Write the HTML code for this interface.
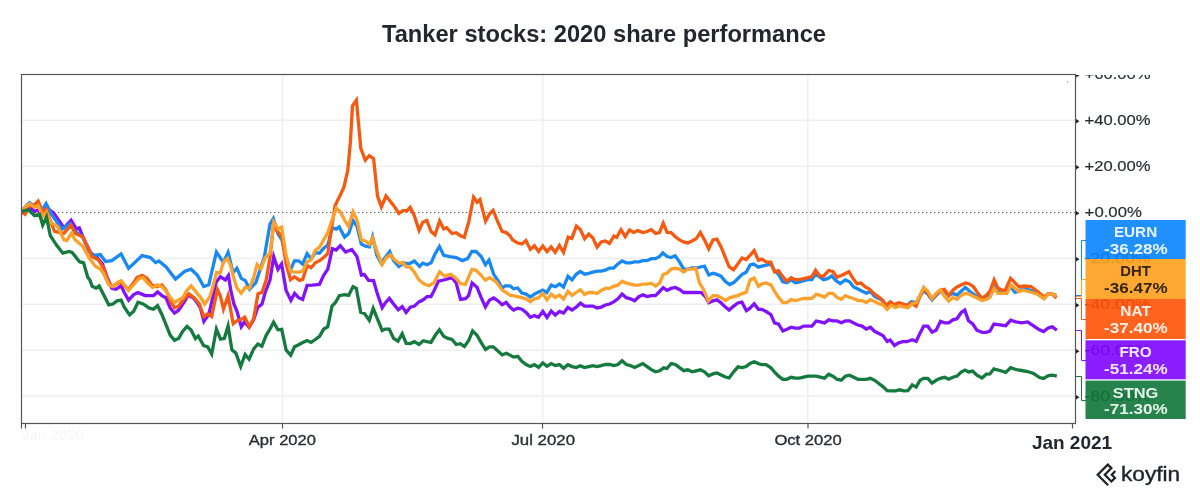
<!DOCTYPE html>
<html lang="en"><head><meta charset="utf-8"><title>Tanker stocks: 2020 share performance</title>
<style>html,body{margin:0;padding:0;background:#fff;}body{width:1200px;height:503px;overflow:hidden;}svg{display:block;}text{font-family:"Liberation Sans", Arial, Helvetica, sans-serif;}</style></head><body>
<svg width="1200" height="503" viewBox="0 0 1200 503">
<rect width="1200" height="503" fill="#fff"/>
<text x="382.0" y="41.7" font-size="24.2" font-weight="700" fill="#23262f" textLength="444" lengthAdjust="spacingAndGlyphs">Tanker stocks: 2020 share performance</text>
<defs><clipPath id="cp"><rect x="22" y="75" width="1053" height="348.5"/></clipPath><clipPath id="ylab"><rect x="1076" y="75" width="124" height="360"/></clipPath></defs>
<g stroke="#efefef" stroke-width="1.6">
<line x1="22" x2="1075" y1="120.3" y2="120.3"/>
<line x1="22" x2="1075" y1="166.3" y2="166.3"/>
<line x1="22" x2="1075" y1="258.3" y2="258.3"/>
<line x1="22" x2="1075" y1="304.3" y2="304.3"/>
<line x1="22" x2="1075" y1="350.3" y2="350.3"/>
<line x1="22" x2="1075" y1="396.3" y2="396.3"/>
<line x1="282.4" x2="282.4" y1="75" y2="423"/>
<line x1="542.7" x2="542.7" y1="75" y2="423"/>
<line x1="807.8" x2="807.8" y1="75" y2="423"/>
</g>
<line x1="22" x2="1075" y1="212.5" y2="212.5" stroke="#555" stroke-width="1.1" stroke-dasharray="1.3 2.7"/>
<g clip-path="url(#cp)" fill="none" stroke-width="3.3" stroke-linejoin="miter" stroke-miterlimit="10" stroke-linecap="butt">
<path d="M20.8 211.7 L31.4 208.7 L34.6 211.5 L37.7 210.2 L42.5 214.2 L46.8 208.0 L53.4 212.7 L63.9 227.8 L71.1 220.3 L76.5 229.0 L79.3 227.9 L82.0 234.6 L86.8 245.1 L92.0 255.5 L97.2 257.6 L102.4 263.9 L107.6 278.5 L111.9 288.3 L116.0 289.3 L121.1 285.8 L124.3 292.5 L128.6 300.1 L133.7 294.6 L137.9 292.6 L145.2 295.6 L153.5 295.6 L157.7 291.9 L161.9 295.6 L166.0 297.8 L170.3 308.2 L174.5 313.0 L178.6 310.2 L184.9 300.9 L188.1 295.0 L193.2 297.7 L197.4 303.0 L200.5 308.2 L203.9 321.3 L208.8 314.4 L212.0 300.9 L216.2 282.1 L220.4 276.8 L225.4 280.0 L228.4 275.4 L230.8 290.4 L233.9 304.0 L237.0 311.3 L241.3 326.8 L244.5 321.8 L249.1 327.1 L253.7 319.6 L257.9 307.2 L262.0 304.0 L265.2 292.5 L270.0 280.0 L273.7 256.7 L277.9 269.3 L281.6 264.0 L286.1 290.4 L290.9 300.4 L294.6 293.4 L298.6 297.7 L302.6 299.4 L307.1 285.4 L312.2 285.2 L319.4 284.5 L323.7 275.3 L327.8 269.1 L332.3 248.7 L336.1 250.0 L340.3 245.7 L345.6 252.1 L351.8 249.5 L357.0 256.6 L361.4 275.0 L364.3 274.5 L368.6 280.5 L373.6 280.7 L377.3 293.6 L382.2 307.7 L385.2 303.0 L389.4 298.4 L393.6 304.0 L398.2 309.8 L402.2 306.7 L406.1 312.5 L410.3 307.2 L414.4 306.1 L419.0 301.9 L423.2 299.8 L427.0 296.7 L431.0 296.6 L434.2 290.4 L438.5 281.1 L445.7 279.5 L451.9 277.6 L456.1 282.7 L460.5 299.5 L465.5 298.7 L468.6 295.6 L472.1 283.0 L477.0 287.3 L481.2 297.7 L485.4 306.9 L489.6 299.9 L493.7 297.9 L497.9 300.9 L502.1 304.7 L506.2 302.3 L510.0 307.1 L513.6 310.1 L517.7 308.2 L521.9 309.2 L526.1 312.4 L530.3 317.3 L534.4 315.6 L538.5 317.2 L542.8 311.3 L547.0 317.5 L551.2 311.0 L555.3 315.0 L559.5 311.5 L563.6 313.1 L567.9 307.5 L572.0 310.0 L576.2 307.1 L580.4 303.2 L584.5 306.0 L588.7 306.1 L592.9 306.1 L597.0 308.1 L601.2 307.1 L605.4 305.0 L609.6 304.0 L613.7 301.9 L617.9 298.8 L622.1 294.0 L626.3 297.7 L630.4 298.8 L634.6 300.7 L638.8 296.7 L642.9 294.7 L647.1 296.6 L651.3 295.7 L655.4 295.6 L659.6 291.5 L663.2 287.7 L667.0 290.3 L671.1 288.4 L675.3 287.4 L679.5 289.4 L683.7 292.5 L687.8 292.5 L692.0 292.5 L696.2 292.5 L701.3 292.6 L705.5 296.7 L708.8 302.6 L712.9 300.9 L717.0 299.9 L721.2 303.0 L725.4 307.1 L729.1 310.0 L733.7 306.1 L737.9 303.0 L741.9 302.2 L746.4 310.7 L750.0 308.2 L754.2 303.7 L758.4 309.3 L761.9 309.4 L766.1 311.5 L770.9 314.6 L774.5 322.9 L778.6 324.1 L782.9 331.0 L787.0 329.2 L791.1 327.2 L795.3 328.2 L799.5 328.1 L803.7 326.1 L807.8 326.1 L812.0 326.0 L816.2 321.0 L820.3 321.9 L824.5 322.9 L828.7 319.9 L832.9 320.9 L837.0 320.9 L841.2 322.8 L845.4 320.9 L849.6 320.9 L853.7 323.0 L857.9 325.0 L862.1 326.1 L866.3 329.1 L870.4 327.3 L874.6 331.3 L878.8 333.4 L882.9 335.5 L887.2 341.4 L890.2 340.0 L894.5 345.5 L898.6 342.8 L902.8 341.7 L906.9 341.7 L912.2 339.7 L916.2 341.3 L919.9 333.4 L923.7 326.2 L927.8 326.2 L932.1 332.1 L936.1 330.2 L940.5 321.3 L944.5 322.9 L948.7 322.9 L952.9 319.8 L957.0 318.7 L961.2 312.5 L964.8 310.1 L968.5 320.8 L972.7 324.0 L976.9 330.2 L982.1 332.3 L986.2 332.3 L989.9 331.2 L993.9 324.0 L999.8 324.8 L1005.7 325.7 L1010.7 320.1 L1015.7 321.8 L1021.6 322.8 L1027.6 321.9 L1033.5 325.8 L1039.5 329.8 L1043.5 331.6 L1048.5 327.8 L1052.4 326.9 L1056.8 330.2" stroke="#8112FB"/>
<path d="M20.8 211.7 L29.4 202.6 L34.6 206.3 L38.7 205.2 L42.4 209.7 L46.1 203.7 L51.3 213.8 L61.8 229.0 L70.0 223.6 L75.3 231.5 L82.6 236.8 L88.9 251.3 L94.1 255.4 L100.3 254.6 L105.6 261.6 L111.8 260.7 L121.1 254.0 L128.6 268.4 L142.1 255.6 L150.4 257.6 L155.7 262.6 L158.8 261.0 L166.1 267.0 L175.5 279.1 L184.9 271.2 L191.1 269.2 L197.4 275.3 L203.7 286.5 L208.8 284.7 L216.4 252.0 L223.4 262.5 L228.1 252.5 L233.1 272.6 L236.9 268.2 L241.3 278.4 L245.3 280.6 L249.7 289.2 L255.8 282.6 L264.2 257.6 L270.0 224.2 L273.4 218.6 L277.8 233.6 L281.9 239.9 L286.1 257.6 L290.3 270.2 L294.5 260.9 L298.6 260.8 L302.6 264.1 L307.1 253.7 L311.1 258.8 L315.4 252.6 L319.4 253.3 L323.7 248.2 L327.8 245.1 L332.2 227.8 L336.1 229.2 L339.2 227.0 L344.6 237.1 L348.7 233.6 L353.0 220.4 L357.0 226.3 L361.3 244.0 L365.4 246.1 L369.4 246.8 L372.6 236.8 L376.9 255.5 L381.1 263.0 L385.2 257.6 L389.7 251.5 L393.6 260.7 L398.8 266.6 L404.0 262.9 L409.2 263.8 L414.4 261.0 L419.6 266.4 L422.8 263.1 L426.9 264.8 L431.1 262.8 L435.3 253.4 L439.4 246.4 L443.7 255.4 L449.9 256.6 L456.2 257.6 L462.4 260.6 L467.6 258.6 L471.9 251.5 L476.0 251.4 L481.2 256.6 L485.4 264.8 L489.0 260.2 L493.7 274.3 L497.9 280.6 L502.2 288.3 L505.2 285.8 L510.0 285.8 L513.6 288.8 L517.7 288.0 L521.9 293.0 L526.1 294.1 L530.3 297.0 L534.4 294.1 L538.6 292.0 L542.8 290.1 L546.8 292.6 L551.2 285.1 L555.3 286.7 L559.5 284.0 L563.5 287.1 L568.0 276.3 L572.0 279.9 L576.2 274.3 L580.3 271.4 L584.5 274.2 L588.7 273.3 L592.9 272.2 L597.0 271.2 L601.2 271.2 L605.4 270.1 L609.6 268.1 L613.7 268.0 L617.9 263.9 L622.1 260.9 L626.3 262.8 L630.4 262.8 L634.6 261.8 L638.8 261.8 L642.9 260.7 L647.1 260.7 L651.3 258.7 L655.5 258.6 L659.6 256.5 L662.8 252.9 L667.0 256.5 L671.1 257.5 L675.2 255.8 L679.5 261.8 L683.7 269.0 L687.8 269.1 L692.0 268.0 L696.2 268.0 L700.3 267.0 L704.4 266.2 L708.8 275.0 L712.9 273.3 L717.0 274.3 L721.2 276.4 L725.4 281.6 L729.6 284.6 L733.7 282.6 L737.9 278.5 L742.1 274.3 L746.2 272.2 L750.1 265.0 L753.6 264.1 L758.4 267.1 L761.9 266.1 L766.1 265.1 L770.8 264.2 L774.4 270.3 L778.6 274.5 L782.8 281.7 L786.9 282.7 L791.1 279.9 L795.3 282.7 L799.5 281.8 L803.6 280.7 L807.8 279.7 L811.9 279.6 L815.6 273.9 L819.3 276.6 L823.5 279.6 L827.6 278.6 L831.8 275.9 L836.0 280.7 L840.2 283.6 L845.4 279.9 L849.5 281.8 L853.7 287.0 L857.9 289.1 L862.1 291.2 L866.3 293.1 L870.4 291.4 L874.6 296.4 L878.8 298.5 L882.9 300.6 L886.2 306.3 L890.3 303.8 L894.4 305.7 L898.6 303.7 L902.8 304.7 L906.9 305.6 L911.2 301.7 L916.2 302.5 L919.9 296.4 L923.7 290.7 L927.8 294.3 L932.0 299.9 L936.2 295.3 L940.4 291.3 L944.5 292.2 L948.7 295.2 L952.9 293.4 L957.0 295.1 L961.2 291.2 L965.4 287.4 L969.6 291.2 L973.7 294.3 L977.9 297.4 L982.1 299.4 L986.2 297.4 L990.0 295.3 L994.1 286.1 L998.0 290.9 L1005.0 291.9 L1010.5 287.0 L1015.1 292.3 L1019.0 291.0 L1024.0 288.6 L1033.0 291.0 L1037.0 293.5 L1044.0 298.2 L1048.0 294.1 L1052.0 294.0 L1056.5 295.4" stroke="#1888F2"/>
<path d="M20.8 211.7 L25.1 214.3 L29.5 205.6 L33.5 205.4 L38.2 201.1 L42.7 211.9 L46.5 209.4 L51.3 223.2 L54.5 231.4 L63.8 233.4 L71.0 225.1 L75.3 233.6 L82.6 236.8 L86.8 245.1 L92.0 256.5 L98.2 259.7 L103.5 268.0 L107.7 280.6 L111.9 286.5 L117.0 283.7 L121.1 281.9 L124.3 285.8 L128.5 289.5 L133.7 282.6 L136.9 277.5 L142.1 275.4 L147.3 278.5 L151.5 284.7 L156.7 286.7 L161.8 284.9 L166.1 290.0 L170.3 300.9 L174.5 307.8 L178.6 306.1 L184.9 297.7 L189.0 293.9 L194.2 297.7 L199.4 304.0 L203.8 316.7 L207.8 313.8 L211.7 316.5 L217.4 289.5 L220.3 295.7 L223.5 309.1 L228.1 295.8 L233.2 323.8 L237.0 320.7 L240.8 319.6 L244.8 317.1 L249.2 326.6 L253.7 318.6 L258.0 293.7 L262.0 292.4 L266.2 280.0 L270.0 257.6 L273.4 225.3 L277.7 231.5 L281.9 236.7 L286.1 263.9 L290.5 279.7 L294.4 276.7 L299.7 280.4 L302.7 279.4 L307.2 265.6 L311.1 267.7 L315.3 262.8 L319.5 260.7 L323.6 257.6 L327.8 253.4 L331.0 231.5 L335.1 205.4 L340.3 195.0 L343.9 187.1 L347.8 170.3 L350.4 141.9 L352.5 105.7 L356.4 100.1 L360.8 148.3 L365.3 160.2 L369.3 155.7 L373.6 158.7 L377.5 196.1 L381.4 206.9 L386.0 196.0 L393.6 205.4 L398.9 213.4 L403.0 210.7 L407.1 210.6 L410.2 207.4 L414.4 215.9 L419.1 230.5 L422.8 222.2 L426.8 220.5 L431.1 231.5 L435.0 234.8 L439.6 221.0 L443.8 228.9 L446.7 227.7 L452.0 233.5 L456.1 232.7 L460.3 235.7 L464.3 237.3 L468.7 222.1 L473.6 197.2 L477.1 202.3 L479.9 199.7 L485.6 221.1 L489.6 213.8 L493.1 210.4 L497.9 222.1 L502.1 231.4 L506.2 232.6 L510.0 235.7 L512.5 239.8 L517.7 243.0 L521.9 243.9 L525.9 240.6 L530.4 249.4 L534.4 245.8 L538.6 251.5 L542.8 246.0 L547.0 251.6 L551.1 246.9 L555.2 252.3 L559.4 245.5 L563.5 252.4 L568.1 237.2 L571.8 238.4 L576.4 226.1 L580.3 229.4 L584.6 238.8 L588.7 234.1 L592.8 237.8 L597.1 247.2 L601.2 242.0 L605.4 241.0 L609.4 243.5 L613.9 236.1 L616.7 237.3 L621.0 229.7 L625.2 236.6 L629.5 229.9 L633.6 232.4 L637.7 230.6 L642.9 232.5 L647.1 231.5 L651.3 229.6 L655.5 233.5 L659.5 232.5 L663.2 223.2 L667.1 232.4 L671.1 232.6 L675.3 236.7 L679.5 239.9 L683.6 241.9 L687.8 242.9 L692.0 240.9 L696.1 238.8 L700.3 232.5 L704.5 239.9 L708.7 248.8 L712.9 240.0 L716.9 239.1 L721.2 247.2 L725.4 257.6 L729.2 267.0 L733.6 269.7 L737.9 263.9 L742.1 257.9 L746.2 259.5 L750.0 255.5 L754.1 250.5 L758.5 260.4 L761.9 259.0 L766.1 261.9 L770.8 262.1 L774.6 271.9 L778.5 270.6 L782.8 276.6 L787.0 281.3 L791.2 277.8 L795.3 279.7 L799.5 279.7 L803.6 278.6 L807.8 277.6 L811.9 276.5 L815.6 270.3 L819.3 275.5 L823.4 276.4 L828.7 270.5 L832.8 271.4 L837.1 277.3 L841.2 275.5 L845.4 273.4 L848.8 271.7 L853.1 278.6 L856.9 283.7 L861.0 283.0 L865.2 287.0 L869.4 289.1 L873.6 293.3 L877.7 296.4 L881.9 299.5 L886.1 305.3 L890.3 301.9 L894.4 304.6 L898.6 302.7 L902.8 303.7 L906.9 305.6 L911.1 302.9 L916.1 306.2 L919.9 296.4 L923.7 288.0 L927.8 293.3 L932.0 298.9 L936.2 294.3 L940.4 290.2 L944.4 289.3 L948.7 295.6 L952.9 290.1 L957.0 287.0 L961.2 284.9 L965.4 282.9 L969.5 283.9 L973.7 287.0 L977.9 293.3 L982.1 298.1 L986.2 295.3 L990.0 291.2 L994.1 279.9 L998.1 288.4 L1004.8 291.1 L1010.6 278.3 L1019.0 286.9 L1024.0 286.0 L1031.0 286.5 L1037.0 291.0 L1044.0 297.1 L1048.0 293.6 L1052.0 294.0 L1056.5 298.0" stroke="#F65910"/>
<path d="M20.8 211.7 L29.4 203.7 L34.6 207.3 L38.2 205.6 L42.7 216.6 L46.6 212.0 L50.3 222.1 L57.5 226.3 L63.9 239.8 L66.8 240.6 L71.2 233.6 L75.3 239.9 L82.6 246.1 L88.9 257.6 L95.1 265.9 L100.3 269.1 L103.5 273.3 L108.7 284.7 L112.8 286.6 L117.0 282.7 L121.1 280.8 L124.3 284.7 L128.5 290.4 L133.7 284.7 L139.0 278.5 L143.1 277.6 L147.3 282.6 L152.5 287.6 L157.7 284.9 L161.9 286.8 L166.1 291.0 L170.3 297.3 L174.5 302.6 L178.6 299.8 L182.7 297.7 L186.9 290.4 L191.1 285.8 L197.4 293.6 L201.5 298.8 L204.7 304.1 L209.9 296.7 L213.0 286.3 L216.4 272.5 L220.2 272.9 L223.5 261.8 L227.5 258.4 L230.8 266.0 L233.9 278.5 L237.0 287.9 L241.2 293.3 L245.5 287.1 L249.4 288.5 L253.7 277.4 L257.1 264.4 L260.9 268.8 L265.2 257.6 L269.9 253.4 L273.9 222.2 L277.9 228.9 L281.6 227.1 L286.1 255.5 L290.4 271.1 L294.4 272.2 L298.6 272.2 L302.7 271.1 L307.0 261.8 L311.1 259.7 L315.3 250.3 L319.5 247.2 L323.6 239.9 L327.8 232.6 L332.0 220.0 L336.4 208.3 L340.3 211.7 L344.5 220.0 L348.5 226.6 L353.0 211.8 L357.0 220.0 L361.3 239.8 L365.4 240.9 L369.4 244.3 L372.6 237.9 L376.9 251.3 L382.2 264.5 L386.3 257.6 L390.4 254.8 L394.6 259.7 L399.8 263.6 L402.9 262.2 L406.1 266.9 L410.2 267.1 L414.4 272.2 L418.6 279.5 L423.8 283.7 L429.0 285.7 L434.2 282.6 L439.6 271.8 L444.7 276.2 L450.9 274.4 L456.2 278.5 L460.4 283.6 L465.4 284.5 L471.9 269.3 L476.0 270.2 L481.2 275.3 L485.4 280.2 L489.6 277.6 L495.8 281.6 L502.1 289.9 L510.0 295.2 L512.5 295.7 L517.7 296.7 L521.9 297.7 L526.1 298.8 L530.3 301.7 L534.4 298.8 L538.6 297.7 L542.7 293.3 L547.0 299.9 L551.2 294.1 L555.3 297.4 L559.4 295.0 L563.5 299.0 L567.9 291.3 L572.0 295.3 L576.2 292.5 L580.3 289.7 L584.6 294.4 L588.7 292.5 L592.9 292.5 L597.0 293.5 L601.2 290.4 L605.4 288.4 L609.6 288.3 L613.7 286.3 L617.9 285.2 L622.1 281.3 L626.3 283.1 L630.4 284.2 L634.6 285.2 L638.8 285.2 L642.9 284.2 L647.1 284.2 L651.3 283.2 L655.5 286.0 L659.6 283.1 L663.3 274.4 L666.9 273.2 L671.1 269.1 L675.3 268.1 L679.5 269.1 L683.6 272.0 L687.8 269.1 L692.0 269.1 L695.9 268.4 L699.3 282.6 L703.5 289.4 L708.4 300.9 L712.9 295.7 L717.0 295.7 L721.2 297.7 L725.4 300.6 L729.6 297.8 L733.7 296.7 L737.9 295.6 L742.1 293.6 L746.1 292.4 L750.1 280.0 L754.1 278.0 L758.5 286.4 L761.9 283.9 L766.1 282.9 L770.9 284.9 L774.4 291.2 L778.6 297.4 L782.8 302.6 L786.9 302.6 L791.1 299.6 L795.3 300.5 L799.5 299.5 L803.6 298.5 L807.8 298.5 L812.0 298.4 L816.2 294.4 L820.3 295.3 L824.5 297.2 L828.7 293.3 L832.8 293.3 L837.0 297.4 L841.2 299.3 L845.4 295.6 L849.6 297.4 L853.7 298.5 L857.9 300.5 L862.1 300.6 L866.2 302.5 L870.4 299.7 L874.6 301.6 L878.8 303.7 L882.9 304.8 L887.1 309.4 L891.3 305.1 L895.5 307.7 L899.6 305.8 L903.8 306.8 L908.0 307.7 L912.2 303.7 L916.3 302.6 L919.9 295.3 L923.8 287.7 L927.8 291.2 L932.0 298.6 L936.2 293.3 L940.6 289.7 L944.5 296.4 L948.7 301.2 L952.9 297.6 L957.0 299.3 L961.2 295.4 L965.4 293.3 L969.5 294.3 L973.7 296.4 L977.9 298.5 L982.1 300.5 L986.2 299.5 L990.0 297.4 L994.1 288.5 L998.1 293.4 L1006.9 293.4 L1011.1 285.1 L1019.0 291.8 L1023.0 290.1 L1030.0 292.0 L1037.0 294.0 L1044.0 298.7 L1048.0 294.1 L1052.0 294.0 L1056.5 295.9" stroke="#FDA12D"/>
<path d="M20.8 211.7 L28.3 209.7 L34.6 215.7 L39.6 214.2 L42.7 225.1 L46.5 217.0 L50.3 235.7 L56.5 245.1 L62.8 253.2 L69.0 251.4 L72.1 252.4 L79.5 261.7 L83.6 262.9 L87.8 277.4 L89.9 280.0 L92.1 286.2 L96.1 288.1 L99.2 285.9 L103.5 294.6 L108.8 304.8 L112.9 304.0 L117.0 300.9 L121.1 300.1 L124.3 307.1 L129.6 314.9 L133.7 311.3 L138.0 302.2 L143.1 304.0 L149.4 308.2 L153.5 309.1 L157.6 305.7 L161.9 314.4 L166.1 324.9 L170.3 335.3 L174.5 340.3 L178.6 338.4 L182.8 331.1 L187.0 326.4 L191.1 330.1 L195.4 338.6 L198.3 336.1 L203.7 345.7 L207.7 346.9 L211.7 354.0 L216.4 329.1 L220.5 339.2 L224.4 338.3 L228.1 326.0 L231.9 349.9 L235.9 353.1 L240.7 366.5 L245.1 354.5 L249.1 359.2 L253.7 348.9 L257.9 344.0 L261.9 346.2 L266.2 335.3 L270.0 329.0 L273.6 322.1 L277.9 329.8 L281.7 329.4 L286.1 349.9 L290.7 355.2 L294.5 346.8 L298.6 344.7 L302.8 342.6 L307.0 340.6 L311.1 342.4 L315.3 339.5 L319.5 336.3 L323.7 329.1 L327.7 326.9 L332.0 306.1 L335.1 303.0 L339.4 295.7 L344.5 294.6 L348.6 295.4 L353.0 286.7 L356.3 288.4 L360.7 312.2 L364.3 313.4 L369.3 320.3 L373.2 308.3 L376.9 317.6 L382.2 330.6 L385.2 329.1 L389.3 329.2 L393.6 338.4 L398.0 341.1 L402.2 333.8 L406.2 343.5 L410.2 343.6 L414.4 341.7 L419.0 344.4 L423.2 340.7 L426.9 341.6 L431.0 342.4 L435.3 335.3 L439.4 329.9 L443.7 336.3 L447.8 338.4 L452.0 339.5 L456.2 344.5 L460.3 343.7 L464.4 346.4 L468.7 340.5 L472.6 330.9 L477.0 335.3 L481.2 342.6 L485.5 349.5 L489.6 346.8 L493.3 346.8 L497.9 351.0 L502.1 354.9 L506.2 353.2 L510.0 355.1 L513.6 357.1 L517.7 356.3 L521.9 361.4 L526.1 364.5 L530.3 366.5 L534.4 364.7 L538.6 367.3 L542.8 362.9 L547.0 366.3 L551.1 363.6 L555.3 365.5 L559.4 364.6 L563.6 368.3 L567.9 364.7 L572.0 366.6 L576.2 367.6 L580.3 365.7 L584.5 367.6 L588.7 366.6 L592.9 365.6 L597.0 366.6 L601.2 365.6 L605.4 364.5 L609.6 364.5 L613.7 365.5 L617.9 364.5 L622.1 360.7 L626.3 364.5 L630.4 365.6 L634.6 367.5 L638.8 365.6 L642.9 363.6 L647.1 366.6 L651.3 369.7 L655.5 371.8 L659.6 370.8 L663.8 367.8 L666.9 368.5 L671.2 363.6 L675.3 364.5 L679.5 367.6 L683.7 370.7 L687.8 369.8 L692.0 371.8 L696.2 370.8 L700.3 369.8 L704.5 371.8 L708.7 375.8 L712.9 373.9 L717.0 372.9 L721.2 374.9 L725.4 377.0 L729.1 377.9 L733.7 371.8 L738.0 366.8 L742.1 367.6 L746.2 366.6 L750.0 363.5 L754.2 361.7 L758.4 363.6 L761.9 364.7 L766.1 364.7 L770.9 367.8 L774.4 372.0 L778.6 376.2 L782.8 379.3 L786.9 379.3 L791.1 377.3 L795.3 378.2 L799.5 378.2 L803.6 377.2 L807.8 376.2 L812.0 376.2 L816.2 376.2 L820.3 377.2 L824.5 378.1 L828.7 374.3 L832.9 376.2 L837.0 379.3 L841.2 380.2 L845.4 376.2 L849.6 375.2 L853.7 377.2 L857.9 379.3 L862.1 379.3 L866.3 379.3 L870.4 378.3 L874.6 380.3 L878.8 383.5 L882.9 386.6 L887.1 390.7 L891.3 390.8 L895.5 390.8 L899.6 389.8 L903.8 390.8 L907.9 390.7 L912.2 384.9 L916.2 387.1 L919.9 380.4 L923.6 378.3 L927.8 378.3 L932.0 383.1 L936.2 380.3 L940.3 378.3 L944.5 377.3 L948.7 379.2 L952.9 377.2 L957.0 376.1 L961.2 372.0 L965.0 370.0 L968.5 371.9 L972.6 371.1 L976.9 375.1 L982.0 378.0 L986.3 374.2 L989.9 374.0 L993.9 368.8 L999.8 370.5 L1005.7 372.4 L1010.7 367.7 L1015.7 369.5 L1021.6 370.5 L1027.6 371.5 L1033.5 373.5 L1039.5 377.5 L1043.5 378.4 L1048.5 375.5 L1052.4 375.1 L1056.8 376.1" stroke="#147A3E"/>
</g>
<rect x="21.5" y="74.5" width="1054" height="349" fill="none" stroke="#565656" stroke-width="1.2"/>
<g stroke="#565656" stroke-width="1.2">
<line x1="21.5" x2="21.5" y1="423.5" y2="428.5"/>
<line x1="25.5" x2="25.5" y1="423.5" y2="428.5"/>
<line x1="282.5" x2="282.5" y1="423.5" y2="428.5"/>
<line x1="542.5" x2="542.5" y1="423.5" y2="428.5"/>
<line x1="808" x2="808" y1="423.5" y2="428.5"/>
<line x1="1072.5" x2="1072.5" y1="423.5" y2="428.5"/>
</g>
<g clip-path="url(#ylab)">
<path d="M1076 72.9 L1079.5 75.2 L1076 77.5 Z" fill="#222"/>
<text x="1084.6" y="79.1" font-size="15" fill="#2b2e36" stroke="#2b2e36" stroke-width="0.2" textLength="66.0" lengthAdjust="spacingAndGlyphs">+60.00%</text>
<path d="M1076 118.9 L1079.5 121.2 L1076 123.5 Z" fill="#222"/>
<text x="1084.6" y="125.1" font-size="15" fill="#2b2e36" stroke="#2b2e36" stroke-width="0.2" textLength="66.0" lengthAdjust="spacingAndGlyphs">+40.00%</text>
<path d="M1076 164.9 L1079.5 167.2 L1076 169.5 Z" fill="#222"/>
<text x="1084.6" y="171.1" font-size="15" fill="#2b2e36" stroke="#2b2e36" stroke-width="0.2" textLength="66.0" lengthAdjust="spacingAndGlyphs">+20.00%</text>
<path d="M1076 210.9 L1079.5 213.2 L1076 215.5 Z" fill="#222"/>
<text x="1084.6" y="217.1" font-size="15" fill="#2b2e36" stroke="#2b2e36" stroke-width="0.2" textLength="57.3" lengthAdjust="spacingAndGlyphs">+0.00%</text>
<path d="M1076 256.9 L1079.5 259.2 L1076 261.5 Z" fill="#222"/>
<text x="1084.6" y="263.1" font-size="15" fill="#2b2e36" stroke="#2b2e36" stroke-width="0.2" textLength="66.0" lengthAdjust="spacingAndGlyphs">-20.00%</text>
<path d="M1076 302.9 L1079.5 305.2 L1076 307.5 Z" fill="#222"/>
<text x="1084.6" y="309.1" font-size="15" fill="#2b2e36" stroke="#2b2e36" stroke-width="0.2" textLength="66.0" lengthAdjust="spacingAndGlyphs">-40.00%</text>
<path d="M1076 348.9 L1079.5 351.2 L1076 353.5 Z" fill="#222"/>
<text x="1084.6" y="355.1" font-size="15" fill="#2b2e36" stroke="#2b2e36" stroke-width="0.2" textLength="66.0" lengthAdjust="spacingAndGlyphs">-60.00%</text>
<path d="M1076 394.9 L1079.5 397.2 L1076 399.5 Z" fill="#222"/>
<text x="1084.6" y="401.1" font-size="15" fill="#2b2e36" stroke="#2b2e36" stroke-width="0.2" textLength="66.0" lengthAdjust="spacingAndGlyphs">-80.00%</text>
</g>
<text x="248.8" y="444.5" font-size="15.2" fill="#2b2e36" stroke="#2b2e36" stroke-width="0.35" textLength="67.2" lengthAdjust="spacingAndGlyphs">Apr 2020</text>
<text x="511.4" y="444.5" font-size="15.2" fill="#2b2e36" stroke="#2b2e36" stroke-width="0.35" textLength="63.6" lengthAdjust="spacingAndGlyphs">Jul 2020</text>
<text x="774.4" y="444.5" font-size="15.2" fill="#2b2e36" stroke="#2b2e36" stroke-width="0.35" textLength="67.4" lengthAdjust="spacingAndGlyphs">Oct 2020</text>
<text x="1031.9" y="448.6" font-size="18.2" font-weight="700" fill="#23262f" textLength="80.2" lengthAdjust="spacingAndGlyphs">Jan 2021</text>
<text x="22" y="440" font-size="15" fill="#f6f6f6">Jan 2020</text>
<rect x="1067" y="81.3" width="1.2" height="1.2" fill="#999"/>
<g fill="none" stroke-width="1">
<path d="M1076 295.5 H1081.5 V240.5 H1086" stroke="#1888F2"/>
<path d="M1076 296.5 H1081.5 V279.5 H1086" stroke="#FDA12D"/>
<path d="M1076 298.5 H1081.5 V319.5 H1086" stroke="#F65910"/>
<path d="M1076 330.5 H1081.5 V360.5 H1086" stroke="#8112FB"/>
<path d="M1076 376.5 H1081.5 V400.5 H1086" stroke="#147A3E"/>
</g>
<rect x="1085.5" y="220.0" width="100.2" height="39.0" fill="#0884FF" fill-opacity="0.9"/>
<text x="1113.9" y="237.1" font-size="14.8" font-weight="700" fill="#eaf5ff" textLength="43.3" lengthAdjust="spacingAndGlyphs">EURN</text>
<text x="1104.0" y="253.6" font-size="14.8" font-weight="700" fill="#eaf5ff" textLength="63.6" lengthAdjust="spacingAndGlyphs">-36.28%</text>
<rect x="1085.5" y="259.0" width="100.2" height="40.0" fill="#FF9E1C" fill-opacity="0.9"/>
<text x="1120.3" y="276.1" font-size="14.8" font-weight="700" fill="#33240c" textLength="30.6" lengthAdjust="spacingAndGlyphs">DHT</text>
<text x="1104.0" y="292.6" font-size="14.8" font-weight="700" fill="#33240c" textLength="63.6" lengthAdjust="spacingAndGlyphs">-36.47%</text>
<rect x="1085.5" y="299.0" width="100.2" height="40.0" fill="#FF5206" fill-opacity="0.9"/>
<text x="1120.3" y="316.1" font-size="14.8" font-weight="700" fill="#fff0e8" textLength="30.6" lengthAdjust="spacingAndGlyphs">NAT</text>
<text x="1104.0" y="332.6" font-size="14.8" font-weight="700" fill="#fff0e8" textLength="63.6" lengthAdjust="spacingAndGlyphs">-37.40%</text>
<rect x="1085.5" y="340.3" width="100.2" height="39.0" fill="#7D06FF" fill-opacity="0.9"/>
<text x="1119.5" y="357.4" font-size="14.8" font-weight="700" fill="#f3e8ff" textLength="32.2" lengthAdjust="spacingAndGlyphs">FRO</text>
<text x="1104.0" y="373.9" font-size="14.8" font-weight="700" fill="#f3e8ff" textLength="63.6" lengthAdjust="spacingAndGlyphs">-51.24%</text>
<rect x="1085.5" y="380.6" width="100.2" height="38.4" fill="#0E7638" fill-opacity="0.9"/>
<text x="1112.8" y="397.7" font-size="14.8" font-weight="700" fill="#e6f5ec" textLength="45.6" lengthAdjust="spacingAndGlyphs">STNG</text>
<text x="1104.0" y="414.2" font-size="14.8" font-weight="700" fill="#e6f5ec" textLength="63.6" lengthAdjust="spacingAndGlyphs">-71.30%</text>
<path d="M1108.1 485.3 L1097.7 474.8 L1107.8 464.6 L1111.4 468.1 L1104.8 474.8 L1111.4 481.5 L1115.0 477.9 L1111.8 474.8 L1115.3 471.1" fill="none" stroke="#1f2229" stroke-width="2.25" stroke-linejoin="miter"/>
<text x="1121.0" y="480.5" font-size="20.8" fill="#1f2229" stroke="#1f2229" stroke-width="0.4" textLength="59.2" lengthAdjust="spacingAndGlyphs">koyfin</text>
</svg></body></html>
